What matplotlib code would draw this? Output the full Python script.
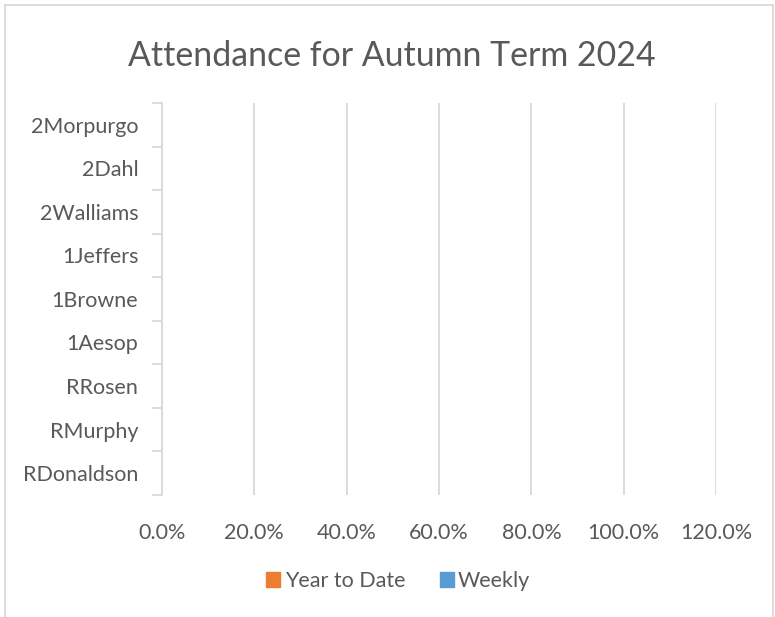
import matplotlib.pyplot as plt
from matplotlib.patches import Patch, Rectangle
from matplotlib.ticker import FuncFormatter, FixedLocator

# Chart data (no values shown in the reference, so every bar is empty)
classes = ["RDonaldson", "RMurphy", "RRosen", "1Aesop", "1Browne",
           "1Jeffers", "2Walliams", "2Dahl", "2Morpurgo"]
year_to_date = [0.0, 0.0, 0.0, 0.0, 0.0, 0.0, 0.0, 0.0, 0.0]
weekly = [0.0, 0.0, 0.0, 0.0, 0.0, 0.0, 0.0, 0.0, 0.0]
x_ticks = [0.0, 0.2, 0.4, 0.6, 0.8, 1.0, 1.2]

orange = "#ED7D31"
blue = "#5B9BD5"
text_grey = "#595959"
grid_grey = "#D9D9D9"

plt.rcParams["font.family"] = ["Lato", "DejaVu Sans"]

fig = plt.figure(figsize=(7.75, 6.17), dpi=100)
ax = fig.add_axes([0.209, 0.198, 0.715, 0.635])

# Excel style clustered bars
pos = list(range(len(classes)))
height = 0.3
ax.barh([p - height / 2 for p in pos], year_to_date, height, color=orange, linewidth=0)
ax.barh([p + height / 2 for p in pos], weekly, height, color=blue, linewidth=0)

ax.set_xlim(0, 1.2)
ax.set_ylim(-0.5, len(classes) - 0.5)
ax.xaxis.set_major_locator(FixedLocator(x_ticks))
ax.xaxis.set_major_formatter(FuncFormatter(lambda v, _: "%.1f%%" % (v * 100)))

# Category labels in the middle, tick marks between categories
ax.set_yticks(pos)
ax.set_yticklabels(classes)
ax.set_yticks([p - 0.5 for p in pos] + [len(classes) - 0.5], minor=True)
ax.tick_params(axis="y", which="major", length=0, pad=17, labelsize=15.5, labelcolor=text_grey)
ax.tick_params(axis="y", which="minor", length=7, width=1.3, color=grid_grey, direction="out")
ax.tick_params(axis="x", length=0, pad=20, labelsize=15.5, labelcolor=text_grey)

for side in ("top", "right", "bottom"):
    ax.spines[side].set_visible(False)
ax.spines["left"].set_color(grid_grey)
ax.spines["left"].set_linewidth(1.3)

ax.grid(axis="x", color=grid_grey, linewidth=1.3)
ax.set_axisbelow(True)

fig.text(0.506, 0.91, "Attendance for Autumn Term 2024", ha="center", va="center",
         fontsize=24.4, color=text_grey)

handles = [Patch(color=orange, label="Year to Date"), Patch(color=blue, label="Weekly")]
fig.legend(handles=handles, loc="center", bbox_to_anchor=(0.514, 0.058), ncol=2,
           frameon=False, fontsize=15.5, labelcolor=text_grey,
           handlelength=0.65, handleheight=0.65, handletextpad=0.2, columnspacing=1.6)

# Chart area border
fig.patches.append(Rectangle((5 / 775, -0.01), 768 / 775, 1 - 5 / 617 + 0.01,
                             transform=fig.transFigure, fill=False,
                             edgecolor=grid_grey, linewidth=1.3))

fig.savefig("out.png", dpi=100)
